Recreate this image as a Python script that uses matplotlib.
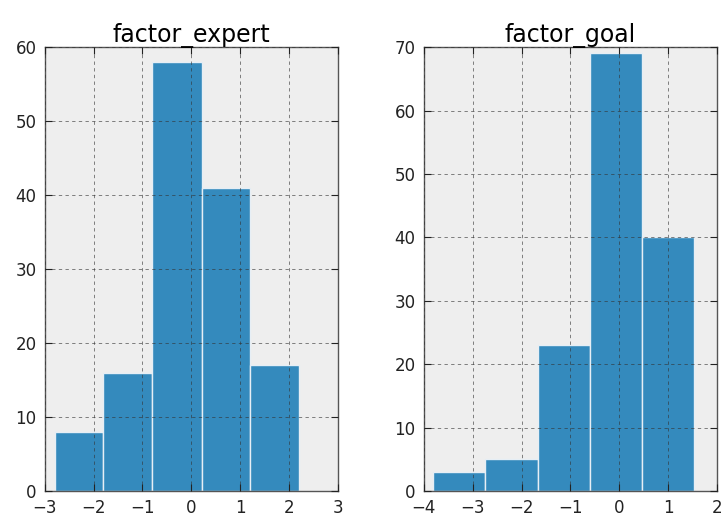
import matplotlib
matplotlib.use("Agg")
import matplotlib.pyplot as plt
from matplotlib.ticker import MultipleLocator
import numpy as np

# histogram bins
expert_edges = [-2.80, -1.80, -0.80, 0.21, 1.21, 2.21]
expert_counts = [8, 16, 58, 41, 17]
goal_edges = [-3.81, -2.74, -1.67, -0.60, 0.47, 1.54]
goal_counts = [3, 5, 23, 69, 40]

titles = ["factor_expert", "factor_goal"]
xlims = [(-3, 3), (-4, 2)]
ylims = [(0, 60), (0, 70)]

fig = plt.figure(figsize=(7.22, 5.23), dpi=100)
ax1 = fig.add_axes([0.062, 0.061, 0.406, 0.849])
ax2 = fig.add_axes([0.587, 0.061, 0.406, 0.849])

for ax, edges, counts, title, xl, yl in zip(
    [ax1, ax2], [expert_edges, goal_edges], [expert_counts, goal_counts], titles, xlims, ylims
):
    edges = np.array(edges)
    ax.set_facecolor("#EEEEEE")
    ax.bar(edges[:-1], counts, width=np.diff(edges), align="edge",
           color="#348ABD", edgecolor="#E6EEF5", linewidth=1.0, zorder=2)
    ax.set_xlim(*xl)
    ax.set_ylim(*yl)
    ax.xaxis.set_major_locator(MultipleLocator(1))
    ax.yaxis.set_major_locator(MultipleLocator(10))
    ax.grid(True, color="#333333", linestyle=(0, (4, 4)), linewidth=0.6, alpha=0.7, zorder=3)
    ax.set_axisbelow(False)
    ax.tick_params(direction="in", length=5, pad=6, top=True, right=True,
                   labelsize=12, colors="#222222")
    for s in ax.spines.values():
        s.set_color("#555555")
        s.set_linewidth(1.0)
    ax.set_title(title, fontsize=17, pad=4)

fig.savefig("out.png", dpi=100)
